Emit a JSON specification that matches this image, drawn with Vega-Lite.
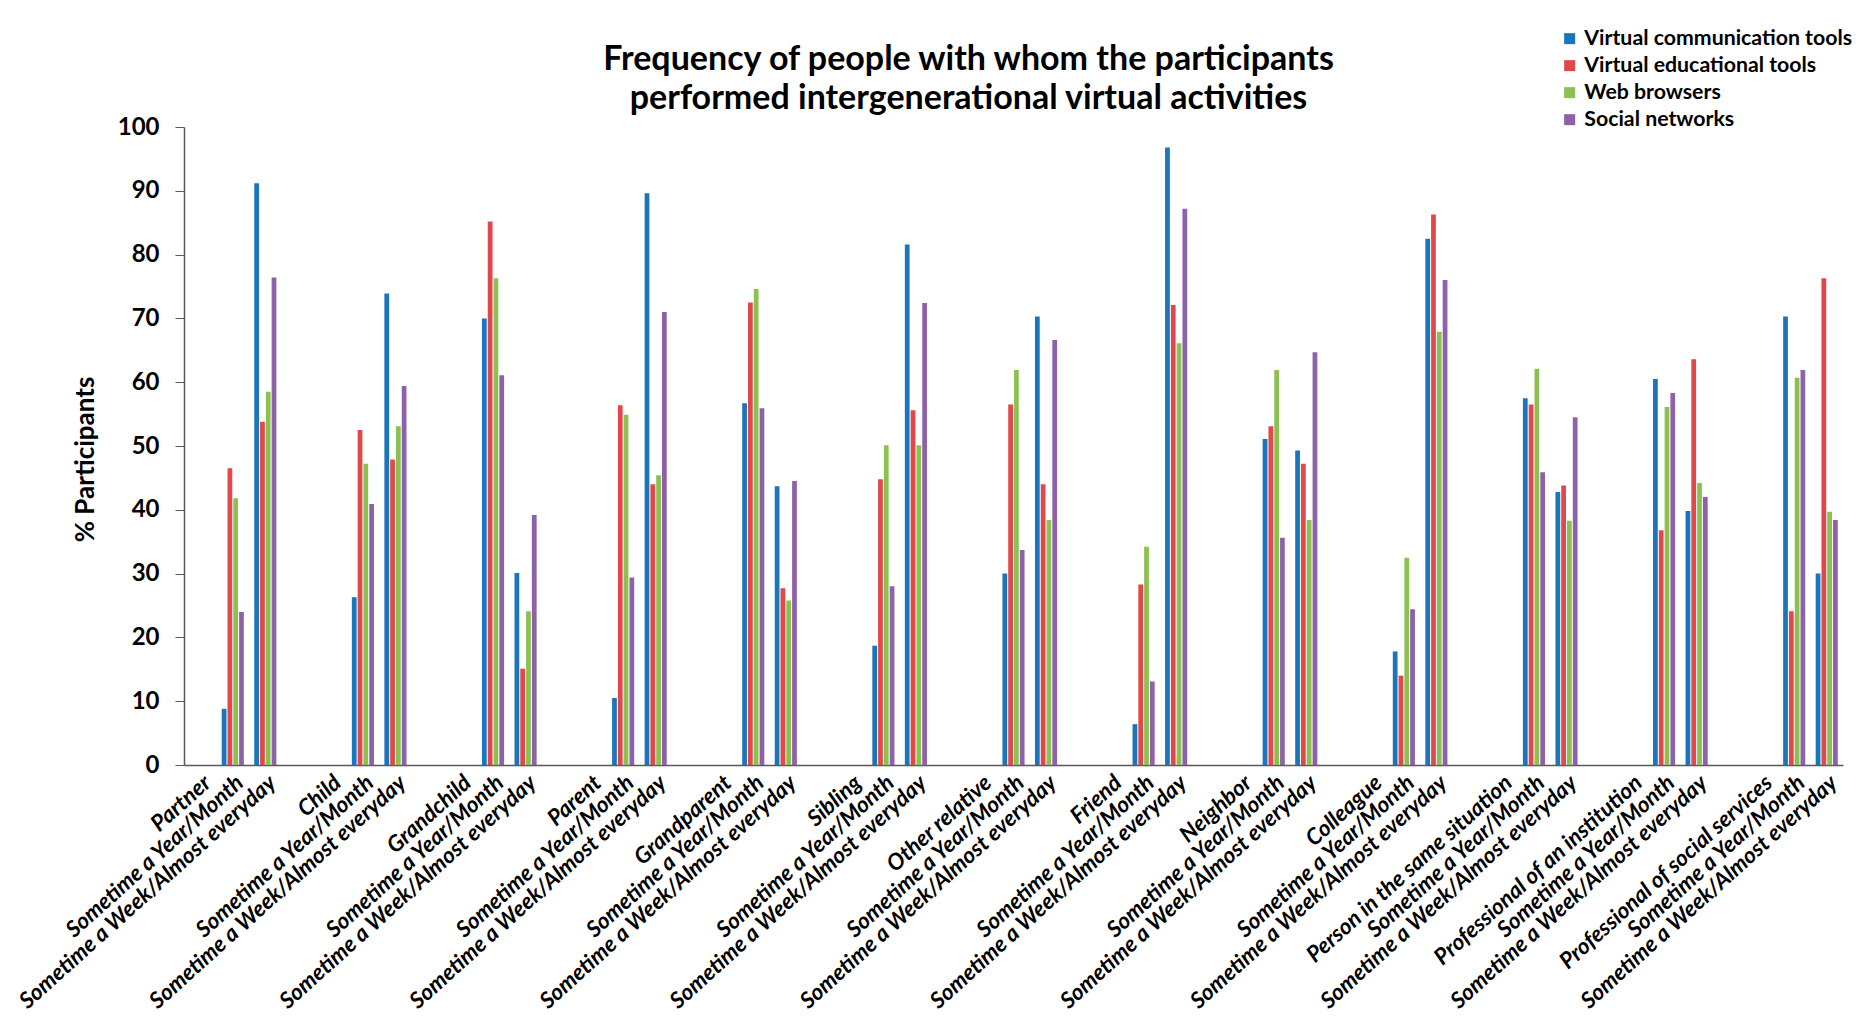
{
  "$schema": "https://vega.github.io/schema/vega-lite/v6.json",
  "autosize": "none",
  "padding": {"left": 184, "top": 127, "right": 25, "bottom": 268},
  "width": 1659,
  "height": 638,
  "background": "white",
  "title": {
    "text": ["Frequency of people with whom the participants", "performed intergenerational virtual activities"],
    "font": "Lato",
    "fontSize": 34,
    "fontWeight": "bold",
    "color": "#000000",
    "anchor": "middle",
    "dx": -45,
    "dy": 108,
    "lineHeight": 39,
    "offset": 20
  },
  "data": {
    "values": [
      {"slot": "Partner|Sometime a Year/Month", "tool": "Virtual communication tools", "pct": 8.8},
      {"slot": "Partner|Sometime a Year/Month", "tool": "Virtual educational tools", "pct": 46.5},
      {"slot": "Partner|Sometime a Year/Month", "tool": "Web browsers", "pct": 41.8},
      {"slot": "Partner|Sometime a Year/Month", "tool": "Social networks", "pct": 24.0},
      {"slot": "Partner|Sometime a Week/Almost everyday", "tool": "Virtual communication tools", "pct": 91.2},
      {"slot": "Partner|Sometime a Week/Almost everyday", "tool": "Virtual educational tools", "pct": 53.8},
      {"slot": "Partner|Sometime a Week/Almost everyday", "tool": "Web browsers", "pct": 58.5},
      {"slot": "Partner|Sometime a Week/Almost everyday", "tool": "Social networks", "pct": 76.4},
      {"slot": "Child|Sometime a Year/Month", "tool": "Virtual communication tools", "pct": 26.3},
      {"slot": "Child|Sometime a Year/Month", "tool": "Virtual educational tools", "pct": 52.5},
      {"slot": "Child|Sometime a Year/Month", "tool": "Web browsers", "pct": 47.2},
      {"slot": "Child|Sometime a Year/Month", "tool": "Social networks", "pct": 40.9},
      {"slot": "Child|Sometime a Week/Almost everyday", "tool": "Virtual communication tools", "pct": 73.9},
      {"slot": "Child|Sometime a Week/Almost everyday", "tool": "Virtual educational tools", "pct": 47.9},
      {"slot": "Child|Sometime a Week/Almost everyday", "tool": "Web browsers", "pct": 53.1},
      {"slot": "Child|Sometime a Week/Almost everyday", "tool": "Social networks", "pct": 59.4},
      {"slot": "Grandchild|Sometime a Year/Month", "tool": "Virtual communication tools", "pct": 70.0},
      {"slot": "Grandchild|Sometime a Year/Month", "tool": "Virtual educational tools", "pct": 85.2},
      {"slot": "Grandchild|Sometime a Year/Month", "tool": "Web browsers", "pct": 76.3},
      {"slot": "Grandchild|Sometime a Year/Month", "tool": "Social networks", "pct": 61.1},
      {"slot": "Grandchild|Sometime a Week/Almost everyday", "tool": "Virtual communication tools", "pct": 30.1},
      {"slot": "Grandchild|Sometime a Week/Almost everyday", "tool": "Virtual educational tools", "pct": 15.1},
      {"slot": "Grandchild|Sometime a Week/Almost everyday", "tool": "Web browsers", "pct": 24.1},
      {"slot": "Grandchild|Sometime a Week/Almost everyday", "tool": "Social networks", "pct": 39.2},
      {"slot": "Parent|Sometime a Year/Month", "tool": "Virtual communication tools", "pct": 10.5},
      {"slot": "Parent|Sometime a Year/Month", "tool": "Virtual educational tools", "pct": 56.4},
      {"slot": "Parent|Sometime a Year/Month", "tool": "Web browsers", "pct": 54.9},
      {"slot": "Parent|Sometime a Year/Month", "tool": "Social networks", "pct": 29.4},
      {"slot": "Parent|Sometime a Week/Almost everyday", "tool": "Virtual communication tools", "pct": 89.6},
      {"slot": "Parent|Sometime a Week/Almost everyday", "tool": "Virtual educational tools", "pct": 44.0},
      {"slot": "Parent|Sometime a Week/Almost everyday", "tool": "Web browsers", "pct": 45.4},
      {"slot": "Parent|Sometime a Week/Almost everyday", "tool": "Social networks", "pct": 71.0},
      {"slot": "Grandparent|Sometime a Year/Month", "tool": "Virtual communication tools", "pct": 56.7},
      {"slot": "Grandparent|Sometime a Year/Month", "tool": "Virtual educational tools", "pct": 72.5},
      {"slot": "Grandparent|Sometime a Year/Month", "tool": "Web browsers", "pct": 74.6},
      {"slot": "Grandparent|Sometime a Year/Month", "tool": "Social networks", "pct": 55.9},
      {"slot": "Grandparent|Sometime a Week/Almost everyday", "tool": "Virtual communication tools", "pct": 43.7},
      {"slot": "Grandparent|Sometime a Week/Almost everyday", "tool": "Virtual educational tools", "pct": 27.7},
      {"slot": "Grandparent|Sometime a Week/Almost everyday", "tool": "Web browsers", "pct": 25.8},
      {"slot": "Grandparent|Sometime a Week/Almost everyday", "tool": "Social networks", "pct": 44.5},
      {"slot": "Sibling|Sometime a Year/Month", "tool": "Virtual communication tools", "pct": 18.7},
      {"slot": "Sibling|Sometime a Year/Month", "tool": "Virtual educational tools", "pct": 44.8},
      {"slot": "Sibling|Sometime a Year/Month", "tool": "Web browsers", "pct": 50.1},
      {"slot": "Sibling|Sometime a Year/Month", "tool": "Social networks", "pct": 28.0},
      {"slot": "Sibling|Sometime a Week/Almost everyday", "tool": "Virtual communication tools", "pct": 81.6},
      {"slot": "Sibling|Sometime a Week/Almost everyday", "tool": "Virtual educational tools", "pct": 55.6},
      {"slot": "Sibling|Sometime a Week/Almost everyday", "tool": "Web browsers", "pct": 50.1},
      {"slot": "Sibling|Sometime a Week/Almost everyday", "tool": "Social networks", "pct": 72.4},
      {"slot": "Other relative|Sometime a Year/Month", "tool": "Virtual communication tools", "pct": 30.0},
      {"slot": "Other relative|Sometime a Year/Month", "tool": "Virtual educational tools", "pct": 56.5},
      {"slot": "Other relative|Sometime a Year/Month", "tool": "Web browsers", "pct": 61.9},
      {"slot": "Other relative|Sometime a Year/Month", "tool": "Social networks", "pct": 33.7},
      {"slot": "Other relative|Sometime a Week/Almost everyday", "tool": "Virtual communication tools", "pct": 70.3},
      {"slot": "Other relative|Sometime a Week/Almost everyday", "tool": "Virtual educational tools", "pct": 44.0},
      {"slot": "Other relative|Sometime a Week/Almost everyday", "tool": "Web browsers", "pct": 38.4},
      {"slot": "Other relative|Sometime a Week/Almost everyday", "tool": "Social networks", "pct": 66.6},
      {"slot": "Friend|Sometime a Year/Month", "tool": "Virtual communication tools", "pct": 6.4},
      {"slot": "Friend|Sometime a Year/Month", "tool": "Virtual educational tools", "pct": 28.3},
      {"slot": "Friend|Sometime a Year/Month", "tool": "Web browsers", "pct": 34.2},
      {"slot": "Friend|Sometime a Year/Month", "tool": "Social networks", "pct": 13.1},
      {"slot": "Friend|Sometime a Week/Almost everyday", "tool": "Virtual communication tools", "pct": 96.8},
      {"slot": "Friend|Sometime a Week/Almost everyday", "tool": "Virtual educational tools", "pct": 72.1},
      {"slot": "Friend|Sometime a Week/Almost everyday", "tool": "Web browsers", "pct": 66.1},
      {"slot": "Friend|Sometime a Week/Almost everyday", "tool": "Social networks", "pct": 87.2},
      {"slot": "Neighbor|Sometime a Year/Month", "tool": "Virtual communication tools", "pct": 51.1},
      {"slot": "Neighbor|Sometime a Year/Month", "tool": "Virtual educational tools", "pct": 53.1},
      {"slot": "Neighbor|Sometime a Year/Month", "tool": "Web browsers", "pct": 61.9},
      {"slot": "Neighbor|Sometime a Year/Month", "tool": "Social networks", "pct": 35.6},
      {"slot": "Neighbor|Sometime a Week/Almost everyday", "tool": "Virtual communication tools", "pct": 49.3},
      {"slot": "Neighbor|Sometime a Week/Almost everyday", "tool": "Virtual educational tools", "pct": 47.2},
      {"slot": "Neighbor|Sometime a Week/Almost everyday", "tool": "Web browsers", "pct": 38.4},
      {"slot": "Neighbor|Sometime a Week/Almost everyday", "tool": "Social networks", "pct": 64.7},
      {"slot": "Colleague|Sometime a Year/Month", "tool": "Virtual communication tools", "pct": 17.8},
      {"slot": "Colleague|Sometime a Year/Month", "tool": "Virtual educational tools", "pct": 14.0},
      {"slot": "Colleague|Sometime a Year/Month", "tool": "Web browsers", "pct": 32.5},
      {"slot": "Colleague|Sometime a Year/Month", "tool": "Social networks", "pct": 24.4},
      {"slot": "Colleague|Sometime a Week/Almost everyday", "tool": "Virtual communication tools", "pct": 82.5},
      {"slot": "Colleague|Sometime a Week/Almost everyday", "tool": "Virtual educational tools", "pct": 86.3},
      {"slot": "Colleague|Sometime a Week/Almost everyday", "tool": "Web browsers", "pct": 67.9},
      {"slot": "Colleague|Sometime a Week/Almost everyday", "tool": "Social networks", "pct": 76.0},
      {"slot": "Person in the same situation|Sometime a Year/Month", "tool": "Virtual communication tools", "pct": 57.5},
      {"slot": "Person in the same situation|Sometime a Year/Month", "tool": "Virtual educational tools", "pct": 56.5},
      {"slot": "Person in the same situation|Sometime a Year/Month", "tool": "Web browsers", "pct": 62.1},
      {"slot": "Person in the same situation|Sometime a Year/Month", "tool": "Social networks", "pct": 45.9},
      {"slot": "Person in the same situation|Sometime a Week/Almost everyday", "tool": "Virtual communication tools", "pct": 42.8},
      {"slot": "Person in the same situation|Sometime a Week/Almost everyday", "tool": "Virtual educational tools", "pct": 43.8},
      {"slot": "Person in the same situation|Sometime a Week/Almost everyday", "tool": "Web browsers", "pct": 38.3},
      {"slot": "Person in the same situation|Sometime a Week/Almost everyday", "tool": "Social networks", "pct": 54.5},
      {"slot": "Professional of an institution|Sometime a Year/Month", "tool": "Virtual communication tools", "pct": 60.5},
      {"slot": "Professional of an institution|Sometime a Year/Month", "tool": "Virtual educational tools", "pct": 36.8},
      {"slot": "Professional of an institution|Sometime a Year/Month", "tool": "Web browsers", "pct": 56.1},
      {"slot": "Professional of an institution|Sometime a Year/Month", "tool": "Social networks", "pct": 58.3},
      {"slot": "Professional of an institution|Sometime a Week/Almost everyday", "tool": "Virtual communication tools", "pct": 39.8},
      {"slot": "Professional of an institution|Sometime a Week/Almost everyday", "tool": "Virtual educational tools", "pct": 63.6},
      {"slot": "Professional of an institution|Sometime a Week/Almost everyday", "tool": "Web browsers", "pct": 44.2},
      {"slot": "Professional of an institution|Sometime a Week/Almost everyday", "tool": "Social networks", "pct": 42.0},
      {"slot": "Professional of social services|Sometime a Year/Month", "tool": "Virtual communication tools", "pct": 70.3},
      {"slot": "Professional of social services|Sometime a Year/Month", "tool": "Virtual educational tools", "pct": 24.1},
      {"slot": "Professional of social services|Sometime a Year/Month", "tool": "Web browsers", "pct": 60.7},
      {"slot": "Professional of social services|Sometime a Year/Month", "tool": "Social networks", "pct": 61.9},
      {"slot": "Professional of social services|Sometime a Week/Almost everyday", "tool": "Virtual communication tools", "pct": 30.0},
      {"slot": "Professional of social services|Sometime a Week/Almost everyday", "tool": "Virtual educational tools", "pct": 76.3},
      {"slot": "Professional of social services|Sometime a Week/Almost everyday", "tool": "Web browsers", "pct": 39.7},
      {"slot": "Professional of social services|Sometime a Week/Almost everyday", "tool": "Social networks", "pct": 38.4}
    ]
  },
  "mark": {"type": "bar"},
  "encoding": {
    "x": {
      "field": "slot",
      "type": "nominal",
      "scale": {
        "domain": [
          "Partner", "Partner|Sometime a Year/Month", "Partner|Sometime a Week/Almost everyday", "Partner|",
          "Child", "Child|Sometime a Year/Month", "Child|Sometime a Week/Almost everyday", "Child|",
          "Grandchild", "Grandchild|Sometime a Year/Month", "Grandchild|Sometime a Week/Almost everyday", "Grandchild|",
          "Parent", "Parent|Sometime a Year/Month", "Parent|Sometime a Week/Almost everyday", "Parent|",
          "Grandparent", "Grandparent|Sometime a Year/Month", "Grandparent|Sometime a Week/Almost everyday", "Grandparent|",
          "Sibling", "Sibling|Sometime a Year/Month", "Sibling|Sometime a Week/Almost everyday", "Sibling|",
          "Other relative", "Other relative|Sometime a Year/Month", "Other relative|Sometime a Week/Almost everyday", "Other relative|",
          "Friend", "Friend|Sometime a Year/Month", "Friend|Sometime a Week/Almost everyday", "Friend|",
          "Neighbor", "Neighbor|Sometime a Year/Month", "Neighbor|Sometime a Week/Almost everyday", "Neighbor|",
          "Colleague", "Colleague|Sometime a Year/Month", "Colleague|Sometime a Week/Almost everyday", "Colleague|",
          "Person in the same situation", "Person in the same situation|Sometime a Year/Month", "Person in the same situation|Sometime a Week/Almost everyday", "Person in the same situation|",
          "Professional of an institution", "Professional of an institution|Sometime a Year/Month", "Professional of an institution|Sometime a Week/Almost everyday", "Professional of an institution|",
          "Professional of social services", "Professional of social services|Sometime a Year/Month", "Professional of social services|Sometime a Week/Almost everyday"
        ],
        "paddingInner": 0.32,
        "paddingOuter": 0.16
      },
      "axis": {
        "title": null,
        "ticks": false,
        "labelAngle": -42,
        "labelFont": "Lato",
        "labelFontSize": 22.5,
        "labelFontWeight": "bold",
        "labelFontStyle": "italic",
        "labelColor": "#000000",
        "labelPadding": 6,
        "labelLimit": 0,
        "labelOverlap": false,
        "domainColor": "#595959",
        "domainWidth": 1.5,
        "labelExpr": "indexof(datum.value, '|') < 0 ? datum.value : split(datum.value, '|')[1]"
      }
    },
    "xOffset": {
      "field": "tool",
      "type": "nominal",
      "scale": {
        "domain": ["Virtual communication tools", "Virtual educational tools", "Web browsers", "Social networks"],
        "paddingInner": 0.18,
        "paddingOuter": 0
      }
    },
    "y": {
      "field": "pct",
      "type": "quantitative",
      "scale": {"domain": [0, 100], "nice": false},
      "axis": {
        "title": "% Participants",
        "titleFont": "Lato",
        "titleFontSize": 26,
        "titleFontWeight": "bold",
        "titleColor": "#000000",
        "titlePadding": 19,
        "titleY": 332,
        "values": [0, 10, 20, 30, 40, 50, 60, 70, 80, 90, 100],
        "grid": false,
        "labelFont": "Lato",
        "labelFontSize": 24,
        "labelFontWeight": "bold",
        "labelColor": "#000000",
        "labelPadding": 16,
        "tickSize": 9,
        "tickColor": "#595959",
        "domainColor": "#595959",
        "domainWidth": 1.5
      }
    },
    "color": {
      "field": "tool",
      "type": "nominal",
      "scale": {
        "domain": ["Virtual communication tools", "Virtual educational tools", "Web browsers", "Social networks"],
        "range": ["#1b75bc", "#e2474a", "#8cc152", "#8e62a9"]
      },
      "legend": {
        "title": null,
        "orient": "none",
        "legendX": 1375,
        "legendY": -99,
        "symbolType": "square",
        "symbolSize": 121,
        "symbolStrokeWidth": 0,
        "labelFont": "Lato",
        "labelFontSize": 21.3,
        "labelFontWeight": "bold",
        "labelColor": "#000000",
        "labelOffset": 4,
        "rowPadding": 5,
        "labelLimit": 0
      }
    }
  },
  "config": {
    "view": {"stroke": null},
    "font": "Lato"
  }
}
